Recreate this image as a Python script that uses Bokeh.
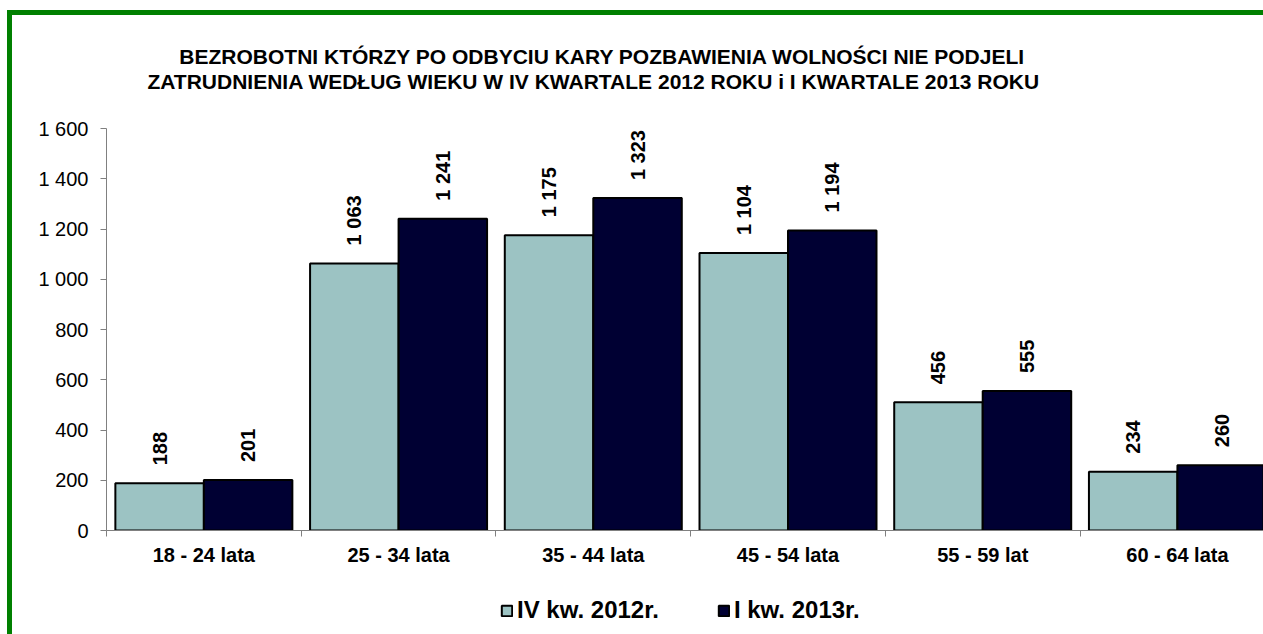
import math
from bokeh.plotting import figure
from bokeh.layouts import column
from bokeh.models import (Range1d, FixedTicker, Label, Legend, LegendItem, ColumnDataSource)
from bokeh.core.properties import value
from bokeh.embed import file_html
from bokeh.resources import INLINE

# ---------------- data ----------------
categories = ["18 - 24 lata", "25 - 34 lata", "35 - 44 lata", "45 - 54 lata", "55 - 59 lat", "60 - 64 lata"]
series_names = ["IV kw. 2012r.", "I kw. 2013r."]
# bar heights as drawn in the picture
values_2012 = [188, 1063, 1175, 1104, 510, 234]
values_2013 = [201, 1241, 1323, 1194, 555, 260]
# data labels as printed
labels_2012 = ["188", "1 063", "1 175", "1 104", "456", "234"]
labels_2013 = ["201", "1 241", "1 323", "1 194", "555", "260"]
y_ticks = [0, 200, 400, 600, 800, 1000, 1200, 1400, 1600]
y_tick_labels = ["0", "200", "400", "600", "800", "1 000", "1 200", "1 400", "1 600"]
title_lines = ["BEZROBOTNI KTÓRZY PO ODBYCIU KARY POZBAWIENIA WOLNOŚCI NIE PODJELI",
               "ZATRUDNIENIA WEDŁUG  WIEKU W  IV KWARTALE 2012 ROKU i I KWARTALE 2013 ROKU"]

FONT = "Liberation Sans"
LIGHT = "#9cc3c3"
DARK = "#000033"

n = len(categories)
centers = [i + 0.5 for i in range(n)]
bw = 0.4545
x1 = [c - bw / 2 for c in centers]
x2 = [c + bw / 2 for c in centers]


def blank_fig(h):
    f = figure(width=1251, height=h, output_backend="svg", toolbar_location=None, title=None,
               x_range=Range1d(100, 101), y_range=Range1d(0, 1),
               x_axis_type=None, y_axis_type=None,
               min_border_left=94, min_border_right=0, min_border_top=0, min_border_bottom=0)
    f.outline_line_color = None
    f.xgrid.visible = False
    f.ygrid.visible = False
    f.background_fill_color = "white"
    f.border_fill_color = "white"
    return f


# ---------------- title strip ----------------
tf = blank_fig(101)
for i, line in enumerate(title_lines):
    tf.add_layout(Label(x=496 - 3 * i, y=60 - 25 * i, x_units="screen", y_units="screen",
                        text=line, text_align="center", text_baseline="alphabetic",
                        text_font=FONT, text_font_style="bold", text_font_size="21px",
                        text_color="black"))

# ---------------- main chart ----------------
p = figure(width=1251, height=454, output_backend="svg", toolbar_location=None, title=None,
           x_range=Range1d(0, 5.942), y_range=Range1d(0, 1600),
           min_border_left=94, min_border_right=0, min_border_top=12, min_border_bottom=40)
p.outline_line_color = None
p.xgrid.visible = False
p.ygrid.visible = False
p.background_fill_color = "white"
p.border_fill_color = "white"

src1 = ColumnDataSource(dict(x=x1, top=values_2012, lab=labels_2012))
src2 = ColumnDataSource(dict(x=x2, top=values_2013, lab=labels_2013))

p.vbar(x="x", top="top", width=bw, bottom=0, source=src1,
       fill_color=LIGHT, line_color="black", line_width=2)
p.vbar(x="x", top="top", width=bw, bottom=0, source=src2,
       fill_color=DARK, line_color="black", line_width=2)

for src in (src1, src2):
    p.text(x="x", y="top", text="lab", source=src, angle=math.pi / 2,
           text_align="left", text_baseline="middle", y_offset=-18,
           text_font=value(FONT), text_font_style="bold", text_font_size="20px",
           text_color="black")

# y axis
ya = p.yaxis[0]
ya.ticker = FixedTicker(ticks=y_ticks)
ya.major_label_overrides = {t: l for t, l in zip(y_ticks, y_tick_labels)}
ya.major_label_text_font = FONT
ya.major_label_text_font_size = "20px"
ya.major_label_text_color = "black"
ya.axis_line_color = "#808080"
ya.major_tick_line_color = "#808080"
ya.major_tick_in = 0
ya.major_tick_out = 6
ya.minor_tick_line_color = None
ya.major_label_standoff = 12

# x axis
xa = p.xaxis[0]
xa.ticker = FixedTicker(ticks=centers, minor_ticks=list(range(n + 1)))
xa.major_label_overrides = {c: cat for c, cat in zip(centers, categories)}
xa.major_label_text_font = FONT
xa.major_label_text_font_style = "bold"
xa.major_label_text_font_size = "20px"
xa.major_label_text_color = "black"
xa.axis_line_color = "#808080"
xa.major_tick_in = 0
xa.major_tick_out = 0
xa.major_tick_line_color = None
xa.minor_tick_line_color = "#808080"
xa.minor_tick_in = 0
xa.minor_tick_out = 6
xa.major_label_standoff = 7

# ---------------- legend strip ----------------
lf = blank_fig(64)
# same series as hidden renderers: only their legend swatches show
lr1 = lf.vbar(x="x", top="top", width=bw, bottom=0, source=src1,
              fill_color=LIGHT, line_color="black", line_width=2, visible=False)
lr2 = lf.vbar(x="x", top="top", width=bw, bottom=0, source=src2,
              fill_color=DARK, line_color="black", line_width=2, visible=False)

legend = Legend(items=[LegendItem(label=series_names[0], renderers=[lr1]),
                       LegendItem(label=series_names[1], renderers=[lr2])],
                orientation="horizontal", location=(394, 10),
                glyph_width=13, glyph_height=13, label_standoff=4, spacing=58,
                padding=0, margin=0, border_line_color=None, background_fill_alpha=0,
                inactive_fill_alpha=0,
                label_text_font=FONT, label_text_font_style="bold",
                label_text_font_size="24px", label_text_color="black")
lf.add_layout(legend, "center")

layout = column(tf, p, lf, spacing=0)
layout.styles = {"border-top": "5px solid #008000", "border-left": "5px solid #008000",
                 "margin-top": "10px", "margin-left": "7px"}

open("out.html", "w").write(file_html(layout, INLINE))
